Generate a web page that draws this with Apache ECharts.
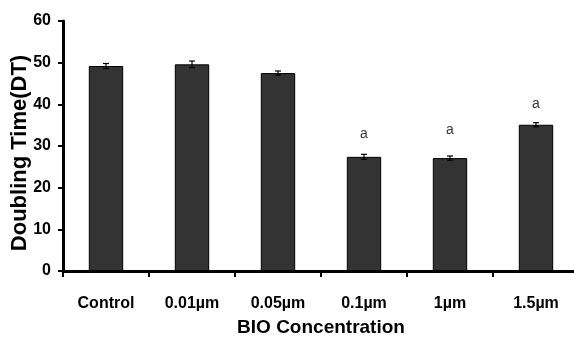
<!DOCTYPE html>
<html lang="en">
<head>
    <meta charset="UTF-8">
    <title>Doubling Time</title>
    <script src="https://cdn.jsdelivr.net/npm/echarts@6/dist/echarts.min.js"></script>
    <style>
        html, body {margin: 0; padding: 0; background: #fff;}
        #chart {width: 574px; height: 337px;}
    </style>
</head>
<body>
<div id="chart"></div>
<script>
    // data
    const categories = ['Control', '0.01\u00b5m', '0.05\u00b5m', '0.1\u00b5m', '1\u00b5m', '1.5\u00b5m'];
    const dtValues = [49.2, 49.6, 47.5, 27.4, 27.1, 35.1];
    const dtErrors = [0.6, 0.8, 0.5, 0.6, 0.5, 0.5];
    const sigMarks = ['', '', '', 'a', 'a', 'a'];
    const sigHeights = [null, null, null, 32.8, 33.9, 40.0];
    const yTicks = [0, 10, 20, 30, 40, 50, 60];

    const font = 'Liberation Sans, Arial, sans-serif';
    let myChart = echarts.init(document.getElementById('chart'));

    let errData = dtValues.map((v, i) => [i, v - dtErrors[i], v + dtErrors[i]]);
    let markData = sigHeights.map((h, i) => h === null ? null : [i, h, sigMarks[i]]).filter(d => d);

    let option = {
        animation: false,
        grid: {left: 63, top: 21, width: 516, height: 250, containLabel: false, outerBoundsMode: 'none'},
        xAxis: {
            type: 'category',
            data: categories,
            name: 'BIO Concentration',
            nameLocation: 'middle',
            nameGap: 47,
            nameMoveOverlap: false,
            nameTextStyle: {fontFamily: font, fontWeight: 'bold', fontSize: 19, color: '#000'},
            axisLine: {lineStyle: {color: '#000', width: 3}},
            axisTick: {show: true, length: 6, lineStyle: {color: '#000', width: 2}},
            axisLabel: {fontFamily: font, fontWeight: 'bold', fontSize: 16, color: '#000', margin: 25}
        },
        yAxis: {
            type: 'value',
            min: yTicks[0],
            max: yTicks[yTicks.length - 1],
            interval: 10,
            name: 'Doubling Time(DT)',
            nameLocation: 'middle',
            nameGap: 32,
            nameMoveOverlap: false,
            nameTextStyle: {fontFamily: font, fontWeight: 'bold', fontSize: 22, color: '#000', padding: [0, 14, 0, 0]},
            splitLine: {show: false},
            axisLine: {show: true, lineStyle: {color: '#000', width: 3}},
            axisTick: {show: true, length: 5, lineStyle: {color: '#000', width: 2}},
            axisLabel: {fontFamily: font, fontWeight: 'bold', fontSize: 16, color: '#000', margin: 12}
        },
        series: [
            {
                type: 'bar',
                data: dtValues,
                barWidth: '40%',
                itemStyle: {color: '#333333', borderColor: '#000', borderWidth: 1}
            },
            {
                type: 'custom',
                data: errData,
                z: 5,
                renderItem: function (params, api) {
                    let x = api.coord([api.value(0), api.value(1)])[0];
                    let lo = api.coord([api.value(0), api.value(1)])[1];
                    let hi = api.coord([api.value(0), api.value(2)])[1];
                    let st = {stroke: '#000', lineWidth: 1.2};
                    return {
                        type: 'group',
                        children: [
                            {type: 'line', shape: {x1: x, y1: lo, x2: x, y2: hi}, style: st},
                            {type: 'line', shape: {x1: x - 3, y1: lo, x2: x + 3, y2: lo}, style: st},
                            {type: 'line', shape: {x1: x - 3, y1: hi, x2: x + 3, y2: hi}, style: st}
                        ]
                    };
                }
            },
            {
                type: 'scatter',
                data: markData,
                symbolSize: 0,
                label: {
                    show: true,
                    position: 'inside',
                    formatter: p => p.data[2],
                    fontFamily: font,
                    fontSize: 14,
                    color: '#000'
                }
            }
        ]
    };

    myChart.setOption(option);
</script>
</body>
</html>
